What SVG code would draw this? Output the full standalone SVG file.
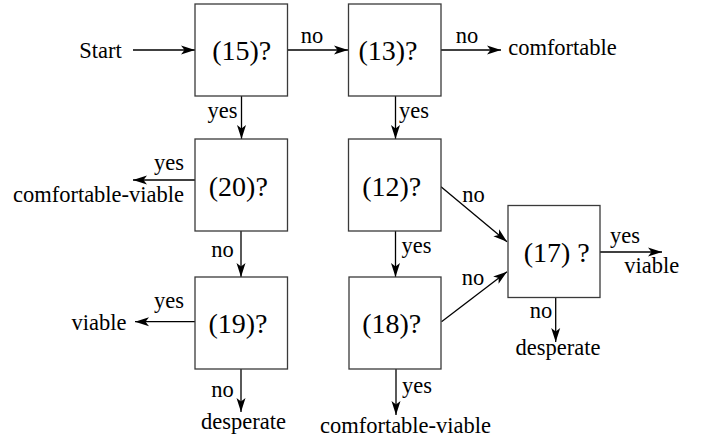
<svg xmlns="http://www.w3.org/2000/svg" width="707" height="441" viewBox="0 0 707 441">
<style>
.box{fill:#fff;stroke:#3a3a3a;stroke-width:1.3}
.bt{font-size:28px;fill:#000;text-anchor:middle}
.lb{font-size:22.5px;fill:#000;text-anchor:middle}
.e{stroke:#000;stroke-width:1.3;fill:none;marker-end:url(#ah)}
</style>
<defs>
<marker id="ah" markerUnits="userSpaceOnUse" markerWidth="16" markerHeight="12" viewBox="0 0 16 12" refX="14" refY="5" orient="auto">
<path d="M0,0.5 L14,5 L0,9.5 L3.5,5 Z" fill="#000"/>
</marker>
</defs>
<rect width="707" height="441" fill="#fff"/>
<g id="connectors">
<path class="e" d="M133,50 L195,50"/>
<path class="e" d="M288,50 L348,50"/>
<path class="e" d="M441,50 L501,50"/>
<path class="e" d="M241.5,96 L241.5,139"/>
<path class="e" d="M395.5,96 L395.5,139"/>
<path class="e" d="M195,180 L133,180"/>
<path class="e" d="M241,231 L241,277"/>
<path class="e" d="M395.5,231 L395.5,277"/>
<path class="e" d="M441,186.7 L507,241.7"/>
<path class="e" d="M441.5,321.7 L507,271.7"/>
<path class="e" d="M600,252 L662,252"/>
<path class="e" d="M195,321.7 L135,321.7"/>
<path class="e" d="M241,368.5 L241,412"/>
<path class="e" d="M396,369 L396,415"/>
<path class="e" d="M555.7,297 L555.7,342"/>
</g>
<g id="edge-labels" font-family="Liberation Serif, DejaVu Serif, serif">
<text class="lb" x="100.5" y="58">Start</text>
<text class="lb" x="312" y="43">no</text>
<text class="lb" x="467" y="43">no</text>
<text class="lb" x="562.5" y="55">comfortable</text>
<text class="lb" x="222.5" y="118">yes</text>
<text class="lb" x="414" y="118">yes</text>
<text class="lb" x="169" y="170">yes</text>
<text class="lb" x="98.5" y="202">comfortable-viable</text>
<text class="lb" x="222.5" y="257">no</text>
<text class="lb" x="473.5" y="202">no</text>
<text class="lb" x="416.5" y="253">yes</text>
<text class="lb" x="473" y="285">no</text>
<text class="lb" x="625" y="242.5">yes</text>
<text class="lb" x="651.7" y="273.3">viable</text>
<text class="lb" x="169" y="308">yes</text>
<text class="lb" x="99" y="330">viable</text>
<text class="lb" x="222.5" y="397">no</text>
<text class="lb" x="243.5" y="429">desperate</text>
<text class="lb" x="417" y="393">yes</text>
<text class="lb" x="405.5" y="433">comfortable-viable</text>
<text class="lb" x="541" y="318">no</text>
<text class="lb" x="558" y="355">desperate</text>
</g>
<g font-family="Liberation Serif, DejaVu Serif, serif">
<g id="n15"><rect class="box" x="195" y="4" width="92.5" height="92"/><text class="bt" x="241.7" y="60">(15)?</text></g>
<g id="n13"><rect class="box" x="348.5" y="4" width="92.5" height="92"/><text class="bt" x="388" y="60">(13)?</text></g>
<g id="n20"><rect class="box" x="195" y="139" width="92.5" height="92"/><text class="bt" x="238.3" y="196">(20)?</text></g>
<g id="n12"><rect class="box" x="348.5" y="139" width="92.5" height="92"/><text class="bt" x="391.7" y="196">(12)?</text></g>
<g id="n19"><rect class="box" x="195" y="277" width="92.5" height="92"/><text class="bt" x="238" y="333">(19)?</text></g>
<g id="n18"><rect class="box" x="349" y="277" width="92" height="92"/><text class="bt" x="391.7" y="333">(18)?</text></g>
<g id="n17"><rect class="box" x="508" y="205.5" width="92" height="92"/><text class="bt" x="556.7" y="262">(17) ?</text></g>
</g>
</svg>
